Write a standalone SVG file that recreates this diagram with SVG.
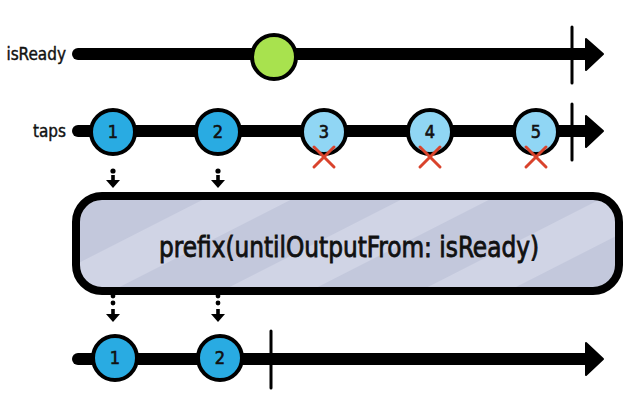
<svg xmlns="http://www.w3.org/2000/svg" width="640" height="411" viewBox="0 0 640 411">
  <defs>
    <style>
      .line { stroke: #000; stroke-width: 12; stroke-linecap: round; fill: none; }
      .tick { stroke: #000; stroke-width: 3; stroke-linecap: round; }
      .head { fill: #000; stroke: #000; stroke-width: 2; stroke-linejoin: round; }
      .ev { stroke: #000; stroke-width: 4; }
      .on { fill: #29abe2; }
      .off { fill: #90d6f4; }
      .num { font-family: "Liberation Sans Narrow", "DejaVu Sans Condensed", sans-serif; font-size: 18px; fill: #111; stroke: #111; stroke-width: 0.6; text-anchor: middle; }
      .lbl { font-family: "Liberation Sans Narrow", "DejaVu Sans Condensed", sans-serif; font-size: 17px; fill: #111; stroke: #111; stroke-width: 0.4; text-anchor: end; }
      .x { stroke: #d9432c; stroke-width: 3; stroke-linecap: round; }
      .dot { fill: #000; }
    </style>
    <pattern id="stripes" patternUnits="userSpaceOnUse" width="90" height="10" patternTransform="rotate(63)">
      <rect x="0" y="0" width="90" height="10" fill="#c3c8dc"/>
      <rect x="0" y="0" width="40" height="10" fill="#d0d4e5"/>
    </pattern>
    <g id="down">
      <rect x="-1.8" y="-5" width="3.6" height="5" class="dot"/>
      <polygon points="-7,0 7,0 0,8" class="dot"/>
    </g>
  </defs>

  <g id="connectors">
    <line class="line" x1="78" y1="54" x2="590" y2="54"/>
    <polygon class="head" points="586,39 603,54 586,70"/>
    <line class="tick" x1="572" y1="27" x2="572" y2="83"/>
    <line class="line" x1="78" y1="131" x2="590" y2="131"/>
    <polygon class="head" points="586,116 603,131 586,147"/>
    <line class="tick" x1="572" y1="104" x2="572" y2="160"/>
    <line class="line" x1="78" y1="359" x2="590" y2="359"/>
    <polygon class="head" points="586,343 603,359 586,375"/>
    <line class="tick" x1="271" y1="331" x2="271" y2="388"/>
    <circle class="dot" cx="113" cy="171" r="2.6"/>
    <use href="#down" x="113" y="180"/>
    <circle class="dot" cx="218" cy="171" r="2.6"/>
    <use href="#down" x="218" y="180"/>
    <circle class="dot" cx="113" cy="296" r="2.4"/>
    <circle class="dot" cx="113" cy="303" r="2.4"/>
    <use href="#down" x="113" y="314"/>
    <circle class="dot" cx="218" cy="296" r="2.4"/>
    <circle class="dot" cx="218" cy="303" r="2.4"/>
    <use href="#down" x="218" y="314"/>
  </g>

  <g id="label-isReady"><text class="lbl" x="66" y="60">isReady</text></g>
  <g id="label-taps"><text class="lbl" x="66" y="137">taps</text></g>

  <g id="isReady-event"><circle class="ev" cx="274" cy="57" r="22" fill="#a8e24e"/></g>

  <g id="tap-1"><circle class="ev on" cx="113" cy="132" r="22"/><text class="num" x="113" y="138">1</text></g>
  <g id="tap-2"><circle class="ev on" cx="218" cy="132" r="22"/><text class="num" x="218" y="138">2</text></g>
  <g id="tap-3"><circle class="ev off" cx="324" cy="132" r="22"/><text class="num" x="324" y="138">3</text>
    <line class="x" x1="314" y1="147" x2="334" y2="167"/><line class="x" x1="334" y1="147" x2="314" y2="167"/></g>
  <g id="tap-4"><circle class="ev off" cx="430" cy="132" r="22"/><text class="num" x="430" y="138">4</text>
    <line class="x" x1="420" y1="147" x2="440" y2="167"/><line class="x" x1="440" y1="147" x2="420" y2="167"/></g>
  <g id="tap-5"><circle class="ev off" cx="536" cy="132" r="22"/><text class="num" x="536" y="138">5</text>
    <line class="x" x1="526" y1="147" x2="546" y2="167"/><line class="x" x1="546" y1="147" x2="526" y2="167"/></g>

  <g id="operator">
    <rect x="76" y="196" width="543" height="95" rx="26" fill="url(#stripes)" stroke="#000" stroke-width="8"/>
    <text x="349" y="257" font-family="Liberation Sans Narrow, DejaVu Sans Condensed, sans-serif" font-size="28" fill="#111" stroke="#111" stroke-width="0.8" text-anchor="middle" textLength="380" lengthAdjust="spacingAndGlyphs">prefix(untilOutputFrom: isReady)</text>
  </g>

  <g id="out-1"><circle class="ev on" cx="115" cy="358" r="22"/><text class="num" x="115" y="364">1</text></g>
  <g id="out-2"><circle class="ev on" cx="220" cy="358" r="22"/><text class="num" x="220" y="364">2</text></g>
</svg>
